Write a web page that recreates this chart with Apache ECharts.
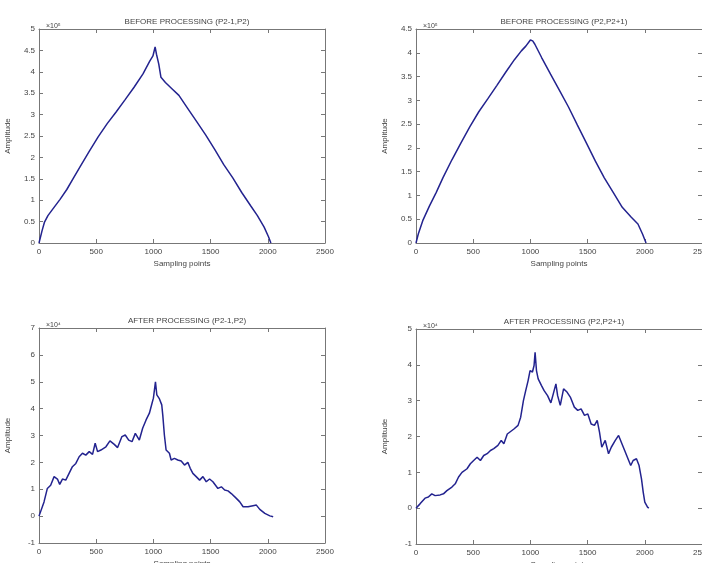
<!DOCTYPE html>
<html>
<head>
<meta charset="utf-8">
<script src="https://cdn.jsdelivr.net/npm/echarts@6/dist/echarts.min.js"></script>
<style>
  html, body { margin: 0; padding: 0; background: #fff; }
  #chart { width: 702px; height: 563px; }
</style>
</head>
<body>
<div id="chart"></div>
<script>
// before processing (P2-1,P2)
const beforeAX = [0, 27, 47, 78, 125, 184, 243, 302, 361, 439, 517, 596, 674, 753, 831, 909, 968, 996, 1015, 1027, 1047, 1066, 1105, 1164, 1223, 1301, 1380, 1458, 1537, 1615, 1694, 1772, 1850, 1909, 1968, 2007, 2027]
const beforeAY = [0, 0.29, 0.48, 0.64, 0.81, 1.02, 1.25, 1.52, 1.79, 2.14, 2.48, 2.79, 3.06, 3.35, 3.64, 3.95, 4.25, 4.37, 4.58, 4.41, 4.18, 3.87, 3.75, 3.6, 3.45, 3.14, 2.83, 2.52, 2.18, 1.83, 1.52, 1.18, 0.87, 0.64, 0.37, 0.14, 0]

// before processing (P2,P2+1)
const beforeBX = [0, 20, 59, 118, 176, 235, 314, 392, 470, 549, 627, 706, 784, 862, 921, 960, 1000, 1020, 1039, 1098, 1176, 1254, 1333, 1411, 1490, 1568, 1646, 1725, 1803, 1882, 1940, 1980, 2011]
const beforeBY = [0, 0.19, 0.47, 0.78, 1.06, 1.37, 1.75, 2.10, 2.44, 2.76, 3.03, 3.31, 3.59, 3.86, 4.04, 4.14, 4.27, 4.25, 4.18, 3.90, 3.55, 3.21, 2.86, 2.48, 2.10, 1.72, 1.37, 1.06, 0.75, 0.54, 0.40, 0.19, 0]

// after processing (P2-1,P2)
const afterAX = [0, 15, 44, 73, 102, 132, 146, 161, 181, 205, 234, 263, 292, 322, 351, 380, 409, 439, 468, 491, 512, 541, 585, 620, 658, 687, 725, 754, 784, 813, 842, 877, 906, 936, 965, 988, 1000, 1018, 1030, 1053, 1073, 1082, 1096, 1111, 1126, 1140, 1155, 1184, 1213, 1243, 1272, 1301, 1322, 1345, 1374, 1404, 1433, 1462, 1491, 1520, 1564, 1594, 1623, 1652, 1681, 1725, 1755, 1784, 1827, 1871, 1900, 1930, 1974, 2018, 2047]
const afterAY = [0, 0.05, 0.53, 1.03, 1.15, 1.47, 1.49, 1.38, 1.18, 1.38, 1.34, 1.59, 1.84, 1.96, 2.21, 2.34, 2.27, 2.40, 2.30, 2.71, 2.40, 2.46, 2.58, 2.80, 2.67, 2.55, 2.96, 3.02, 2.83, 2.77, 3.08, 2.83, 3.27, 3.58, 3.83, 4.20, 4.39, 5.0, 4.51, 4.36, 4.14, 3.76, 3.02, 2.46, 2.52, 2.34, 2.09, 2.15, 2.09, 2.05, 1.90, 2.0, 1.78, 1.59, 1.47, 1.34, 1.47, 1.28, 1.38, 1.28, 1.03, 1.09, 0.97, 0.94, 0.84, 0.66, 0.53, 0.35, 0.35, 0.39, 0.41, 0.25, 0.10, 0.01, -0.02]

// after processing (P2,P2+1)
const afterBX = [0, 35, 79, 108, 138, 167, 211, 240, 270, 314, 343, 372, 402, 446, 475, 504, 534, 563, 592, 622, 651, 680, 716, 745, 768, 798, 827, 856, 892, 915, 939, 959, 980, 997, 1018, 1032, 1041, 1053, 1068, 1097, 1120, 1150, 1179, 1200, 1223, 1238, 1261, 1290, 1320, 1349, 1384, 1414, 1443, 1473, 1502, 1531, 1560, 1584, 1604, 1624, 1654, 1683, 1707, 1742, 1771, 1800, 1824, 1853, 1877, 1898, 1927, 1950, 1971, 1986, 2000, 2024, 2035]
const afterBY = [0, 0.12, 0.28, 0.31, 0.40, 0.35, 0.37, 0.40, 0.49, 0.59, 0.68, 0.87, 1.0, 1.10, 1.24, 1.33, 1.42, 1.33, 1.47, 1.52, 1.61, 1.66, 1.75, 1.89, 1.80, 2.07, 2.14, 2.21, 2.31, 2.54, 3.0, 3.28, 3.56, 3.84, 3.80, 3.98, 4.35, 3.84, 3.61, 3.42, 3.28, 3.14, 2.94, 3.19, 3.47, 3.14, 2.87, 3.33, 3.24, 3.10, 2.82, 2.73, 2.77, 2.59, 2.63, 2.35, 2.31, 2.45, 2.12, 1.70, 1.89, 1.52, 1.70, 1.89, 2.03, 1.80, 1.61, 1.38, 1.19, 1.33, 1.38, 1.19, 0.82, 0.45, 0.17, 0.03, 0]

const panels = [
  { title: 'BEFORE PROCESSING (P2-1,P2)', exp: '×10⁵', left: 39, top: 29, height: 214, yMin: 0, yMax: 5, yStep: 0.5, xs: beforeAX, ys: beforeAY },
  { title: 'BEFORE PROCESSING (P2,P2+1)', exp: '×10⁵', left: 416, top: 29, height: 214, yMin: 0, yMax: 4.5, yStep: 0.5, xs: beforeBX, ys: beforeBY },
  { title: 'AFTER PROCESSING (P2-1,P2)', exp: '×10⁴', left: 39, top: 328, height: 215, yMin: -1, yMax: 7, yStep: 1, xs: afterAX, ys: afterAY },
  { title: 'AFTER PROCESSING (P2,P2+1)', exp: '×10⁴', left: 416, top: 329, height: 215, yMin: -1, yMax: 5, yStep: 1, xs: afterBX, ys: afterBY }
]

const font = 'Liberation Sans'
const txt = '#444'
const axisColor = '#777'
const plotW = 286
const plain = v => String(v)

const chart = echarts.init(document.getElementById('chart'))

const grid = []
const xAxis = []
const yAxis = []
const series = []
const title = []

panels.forEach((p, i) => {
  grid.push({ left: p.left, top: p.top, width: plotW, height: p.height, containLabel: false, outerBoundsMode: 'none' })
  const tick = { show: true, inside: true, length: 4, lineStyle: { color: axisColor } }
  const line = { show: true, onZero: false, lineStyle: { color: axisColor, width: 1 } }
  xAxis.push({
    gridIndex: i, type: 'value', min: 0, max: 2500, interval: 500, position: 'bottom',
    name: 'Sampling points', nameLocation: 'middle', nameGap: 17,
    nameTextStyle: { fontFamily: font, fontSize: 8, color: txt },
    axisLine: line, axisTick: tick, splitLine: { show: false },
    axisLabel: { fontFamily: font, fontSize: 8, color: txt, margin: 5, formatter: plain }
  })
  xAxis.push({
    gridIndex: i, type: 'value', min: 0, max: 2500, interval: 500, position: 'top',
    axisLine: line, axisTick: tick, splitLine: { show: false }, axisLabel: { show: false }
  })
  yAxis.push({
    gridIndex: i, type: 'value', min: p.yMin, max: p.yMax, interval: p.yStep, position: 'left',
    name: 'Amplitude', nameLocation: 'middle', nameGap: 27, nameRotate: 90,
    nameTextStyle: { fontFamily: font, fontSize: 8, color: txt },
    axisLine: line, axisTick: tick, splitLine: { show: false },
    axisLabel: { fontFamily: font, fontSize: 8, color: txt, margin: 4, formatter: plain }
  })
  yAxis.push({
    gridIndex: i, type: 'value', min: p.yMin, max: p.yMax, interval: p.yStep, position: 'right',
    axisLine: line, axisTick: tick, splitLine: { show: false }, axisLabel: { show: false }
  })
  series.push({
    type: 'line', xAxisIndex: i * 2, yAxisIndex: i * 2,
    data: p.xs.map((x, k) => [x, p.ys[k]]),
    showSymbol: false, symbol: 'none', animation: false,
    lineStyle: { color: '#23238f', width: 1.5 }
  })
  title.push({
    text: p.title, left: p.left + plotW / 2, top: p.top - 16, textAlign: 'center',
    textStyle: { fontFamily: font, fontSize: 8, fontWeight: 'normal', color: txt }
  })
  title.push({
    text: p.exp, left: p.left + 2, top: p.top - 11,
    textStyle: { fontFamily: font, fontSize: 7, fontWeight: 'normal', color: txt }
  })
})

chart.setOption({
  backgroundColor: '#fff',
  animation: false,
  title,
  grid,
  xAxis,
  yAxis,
  series
})
</script>
</body>
</html>
